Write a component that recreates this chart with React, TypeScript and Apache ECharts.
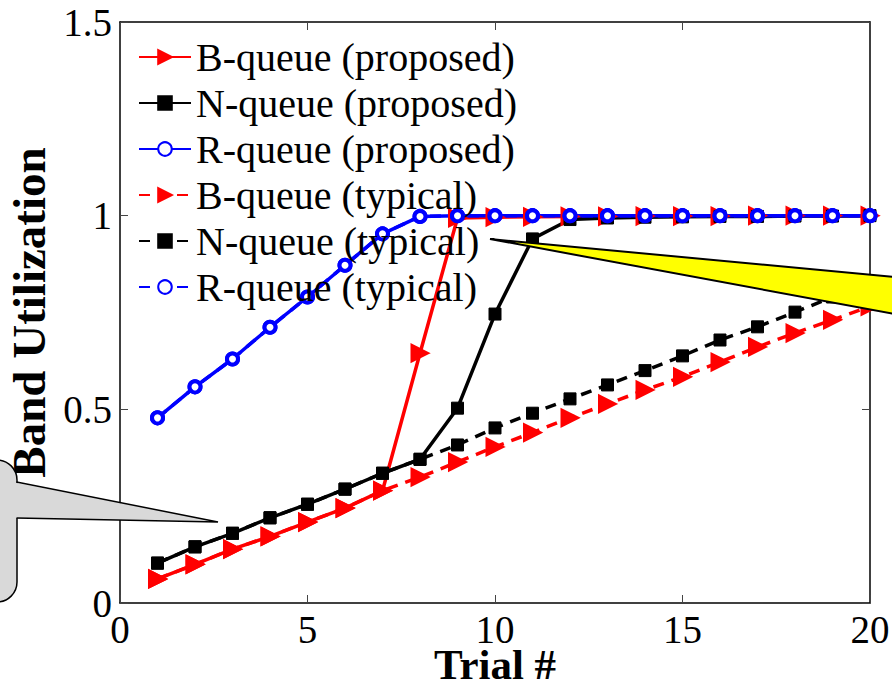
import React, { useEffect, useRef } from 'react';
import * as echarts from 'echarts';

const trials = [1, 2, 3, 4, 5, 6, 7, 8, 9, 10, 11, 12, 13, 14, 15, 16, 17, 18, 19, 20];
const bProposed = [0.062, 0.100, 0.139, 0.172, 0.209, 0.245, 0.290, 0.645, 0.994, 0.996, 0.997, 0.998, 0.998, 0.999, 0.999, 0.999, 1.0, 1.0, 1.0, 1.0];
const nProposed = [0.103, 0.145, 0.180, 0.220, 0.255, 0.294, 0.335, 0.371, 0.503, 0.746, 0.940, 0.990, 0.994, 0.996, 0.997, 0.998, 0.998, 0.999, 0.999, 1.0];
const rProposed = [0.478, 0.558, 0.630, 0.712, 0.790, 0.872, 0.953, 0.998, 1.0, 1.0, 1.0, 1.0, 1.0, 1.0, 1.0, 1.0, 1.0, 1.0, 1.0, 1.0];
const bTypical = [0.062, 0.100, 0.139, 0.172, 0.209, 0.245, 0.290, 0.325, 0.364, 0.403, 0.440, 0.478, 0.514, 0.550, 0.584, 0.622, 0.661, 0.697, 0.731, 0.766];
const nTypical = [0.103, 0.145, 0.180, 0.220, 0.255, 0.294, 0.335, 0.371, 0.408, 0.452, 0.490, 0.527, 0.563, 0.600, 0.638, 0.679, 0.713, 0.751, 0.790, 0.826];
const rTypical = [0.478, 0.558, 0.630, 0.712, 0.790, 0.872, 0.953, 0.998, 1.0, 1.0, 1.0, 1.0, 1.0, 1.0, 1.0, 1.0, 1.0, 1.0, 1.0, 1.0];
const seriesNames = ['B-queue (proposed)', 'N-queue (proposed)', 'R-queue (proposed)', 'B-queue (typical)', 'N-queue (typical)', 'R-queue (typical)'];
const xTitle = 'Trial #';
const yTitle = 'Band Utilization';

const SERIF = '"Liberation Serif", "Times New Roman", Times, serif';

export default function App() {
  const ref = useRef<HTMLDivElement>(null);
  useEffect(() => {
    const chart = echarts.init(ref.current!, null, { renderer: 'svg' });

    const mk = (name: string, vals: number[], color: string, symbol: string, dashed: boolean, size: number, fill: string, border: number, rotate?: number) => ({
      name,
      type: 'line',
      data: trials.map((t, i) => [t, vals[i]]),
      symbol,
      symbolSize: size,
      symbolRotate: rotate,
      showSymbol: true,
      clip: false,
      lineStyle: { color, width: 3.5, type: dashed ? [11, 8] : 'solid' },
      itemStyle: { color: fill, borderColor: color, borderWidth: border },
      emphasis: { disabled: true },
    });

    const tick = { show: true, inside: true, length: 8, lineStyle: { color: '#444', width: 1 } };
    const line = { show: true, onZero: false, lineStyle: { color: '#000', width: 1.5 } };

    chart.setOption({
      animation: false,
      backgroundColor: '#fff',
      grid: { left: 120, right: 22, top: 22, bottom: 85, containLabel: false, outerBoundsMode: 'none' },
      legend: {
        orient: 'vertical',
        left: 138,
        top: 37,
        padding: 0,
        itemWidth: 52,
        itemHeight: 17,
        itemGap: 6,
        data: seriesNames,
        textStyle: { fontFamily: SERIF, fontSize: 40, lineHeight: 40, color: '#000' },
        selectedMode: false,
      },
      xAxis: [
        {
          type: 'value', min: 0, max: 20, interval: 5, position: 'bottom',
          name: xTitle, nameLocation: 'middle', nameGap: 41, nameMoveOverlap: false,
          nameTextStyle: { fontFamily: SERIF, fontSize: 43, lineHeight: 40, fontWeight: 'bold', color: '#000' },
          axisLine: line, axisTick: tick, splitLine: { show: false },
          axisLabel: { fontFamily: SERIF, fontSize: 39, lineHeight: 30, color: '#000', margin: 11 },
        },
        {
          type: 'value', min: 0, max: 20, interval: 5, position: 'top',
          axisLine: line, axisTick: tick, splitLine: { show: false }, axisLabel: { show: false },
        },
      ],
      yAxis: [
        {
          type: 'value', min: 0, max: 1.5, interval: 0.5, position: 'left',
          name: yTitle, nameLocation: 'middle', nameGap: 66,
          nameTextStyle: { fontFamily: SERIF, fontSize: 47, fontWeight: 'bold', color: '#000' },
          axisLine: line, axisTick: tick, splitLine: { show: false },
          axisLabel: { fontFamily: SERIF, fontSize: 39, lineHeight: 30, color: '#000', margin: 8 },
        },
        {
          type: 'value', min: 0, max: 1.5, interval: 0.5, position: 'right',
          axisLine: line, axisTick: tick, splitLine: { show: false }, axisLabel: { show: false },
        },
      ],
      series: [
        mk(seriesNames[0], bProposed, '#ff0000', 'triangle', false, 17, '#ff0000', 2, -90),
        mk(seriesNames[1], nProposed, '#000000', 'rect', false, 12, '#000000', 1),
        mk(seriesNames[2], rProposed, '#0000ff', 'circle', false, 11, '#ffffff', 4),
        mk(seriesNames[3], bTypical, '#ff0000', 'triangle', true, 17, '#ff0000', 2, -90),
        mk(seriesNames[4], nTypical, '#000000', 'rect', true, 12, '#000000', 1),
        mk(seriesNames[5], rTypical, '#0000ff', 'circle', true, 11, '#ffffff', 4),
      ],
      graphic: [
        {
          type: 'polygon', z: 100,
          shape: { points: [[490, 239], [905, 278], [905, 316]] },
          style: { fill: '#ffff00', stroke: '#000', lineWidth: 2 },
        },
        {
          type: 'rect', z: 100,
          shape: { x: -60, y: 460, width: 77, height: 142, r: 20 },
          style: { fill: '#d9d9d9', stroke: '#000', lineWidth: 1.5 },
        },
        {
          type: 'polygon', z: 101,
          shape: { points: [[12, 482], [218, 522], [12, 518]] },
          style: { fill: '#d9d9d9', stroke: null },
        },
        {
          type: 'polyline', z: 102,
          shape: { points: [[16.5, 482], [218, 522], [16.5, 518]] },
          style: { stroke: '#000', lineWidth: 1.5, fill: null },
        },
      ],
    });
    return () => chart.dispose();
  }, []);
  return <div ref={ref} style={{ position: 'fixed', left: 0, top: 0, width: 892, height: 688 }} />;
}
